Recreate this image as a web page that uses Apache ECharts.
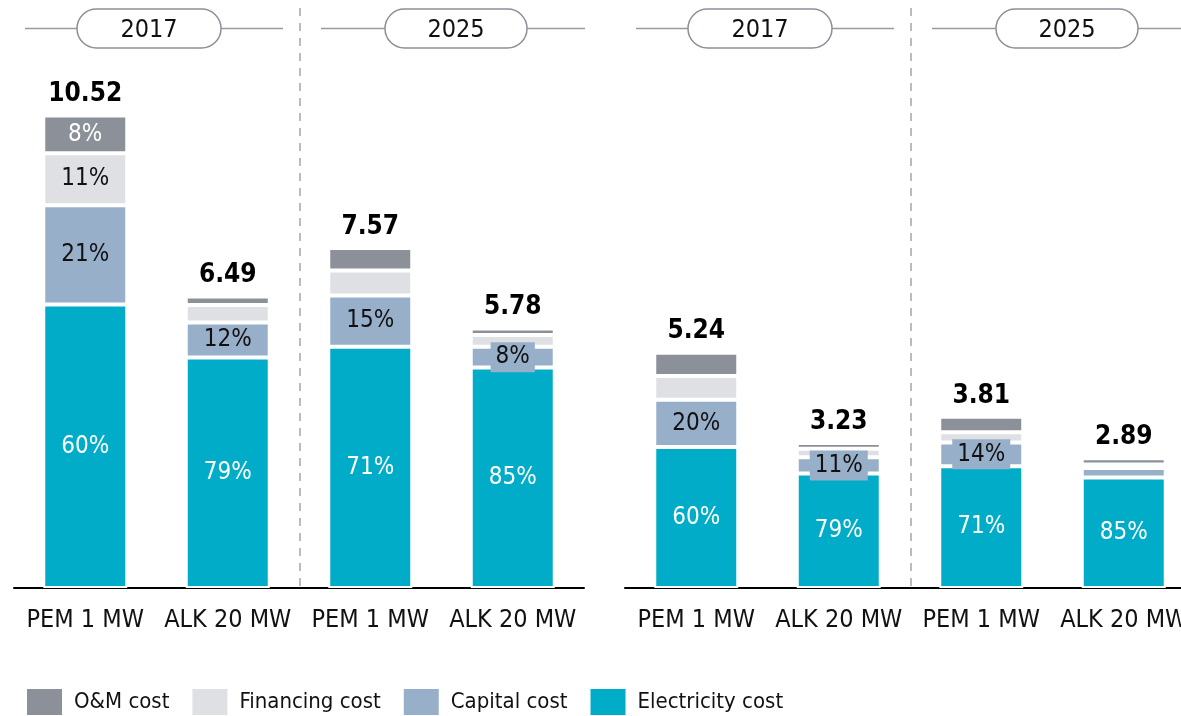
<!DOCTYPE html>
<html>
<head>
<meta charset="utf-8">
<title>Hydrogen cost breakdown</title>
<script src="https://cdn.jsdelivr.net/npm/echarts@6/dist/echarts.min.js"></script>
<style>
  html, body { margin: 0; padding: 0; background: #fff; }
  #chart { width: 1181px; height: 716px; }
</style>
</head>
<body>
<div id="chart"></div>
<script>
// categories and header labels
var categories = ['PEM 1 MW', 'ALK 20 MW', 'PEM 1 MW', 'ALK 20 MW'];
var yearLabels = ['2017', '2025'];
var seriesNames = ['O&M cost', 'Financing cost', 'Capital cost', 'Electricity cost'];

// left panel values
var omLeft = [0.84, 0.19, 0.50, 0.15];
var finLeft = [1.16, 0.39, 0.56, 0.26];
var capLeft = [2.21, 0.78, 1.14, 0.46];
var elecLeft = [6.31, 5.13, 5.37, 4.91];
var totalLeft = [10.52, 6.49, 7.57, 5.78];

// right panel values
var omRight = [0.52, 0.13, 0.34, 0.14];
var finRight = [0.53, 0.19, 0.23, 0.08];
var capRight = [1.05, 0.36, 0.53, 0.21];
var elecRight = [3.14, 2.55, 2.71, 2.46];
var totalRight = [5.24, 3.23, 3.81, 2.89];

// share labels shown in the bars ('' = none)
var omPctLeft = ['8%', '', '', ''];
var finPctLeft = ['11%', '', '', ''];
var capPctLeft = ['21%', '12%', '15%', '8%'];
var elecPctLeft = ['60%', '79%', '71%', '85%'];
var omPctRight = ['', '', '', ''];
var finPctRight = ['', '', '', ''];
var capPctRight = ['20%', '11%', '14%', ''];
var elecPctRight = ['60%', '79%', '71%', '85%'];

var FONT = "'DejaVu Sans Condensed', 'Liberation Sans', sans-serif";
var colors = {
  om: '#8b9099',
  fin: '#dee0e4',
  cap: '#98afca',
  elec: '#00acc8'
};

var chart = echarts.init(document.getElementById('chart'), null, {renderer: 'canvas'});

function stackSeries(name, idx, values, pcts, color, textColor, withBg) {
  return {
    name: name,
    type: 'bar',
    stack: 'cost' + idx,
    xAxisIndex: idx,
    yAxisIndex: idx,
    barWidth: 84,
    itemStyle: {color: color, borderColor: '#fff', borderWidth: 2},
    data: values.map(function (v, i) {
      return {
        value: v,
        label: {show: pcts[i] !== ''}
      };
    }),
    label: {
      position: 'inside',
      fontFamily: FONT,
      fontSize: 24,
      color: textColor,
      backgroundColor: withBg ? color : 'transparent',
      padding: withBg ? [3, 5] : 0,
      formatter: function (p) { return pcts[p.dataIndex]; }
    }
  };
}

function totalSeries(idx, totals) {
  return {
    name: 'total',
    type: 'bar',
    xAxisIndex: idx,
    yAxisIndex: idx,
    barWidth: 84,
    barGap: '-100%',
    silent: true,
    itemStyle: {color: 'rgba(0,0,0,0)'},
    data: totals,
    label: {
      show: true,
      position: 'top',
      distance: 8,
      fontFamily: FONT,
      fontSize: 26,
      fontWeight: 'bold',
      color: '#000',
      formatter: function (p) { return totals[p.dataIndex].toFixed(2); }
    },
    z: 1
  };
}

// header pills, lines and dividers (decoration)
function header(x0, wide) {
  var lc = '#9a9a9a';
  var els = [];
  var segs = [[25, 77], [221, 283], [321, 385], [527, wide ? 600 : 585]];
  segs.forEach(function (s) {
    els.push({type: 'line', shape: {x1: s[0] + x0, y1: 28.5, x2: s[1] + x0, y2: 28.5},
      style: {stroke: lc, lineWidth: 1.5}});
  });
  [[77, 221, yearLabels[0]], [385, 527, yearLabels[1]]].forEach(function (p) {
    els.push({type: 'rect', shape: {x: p[0] + x0, y: 9, width: p[1] - p[0], height: 39, r: 19.5},
      style: {fill: '#fff', stroke: '#8b9099', lineWidth: 1.5}});
    els.push({type: 'text', x: (p[0] + p[1]) / 2 + x0, y: 30,
      style: {text: p[2], font: '25px ' + FONT, fill: '#111', align: 'center', verticalAlign: 'middle'}});
  });
  els.push({type: 'line', shape: {x1: 300 + x0, y1: 8, x2: 300 + x0, y2: 587},
    style: {stroke: '#a5a5a5', lineWidth: 1.5, lineDash: [8, 7]}});
  return els;
}

var grids = [
  {left: 14, top: 49, width: 570, height: 539, outerBoundsMode: 'none'},
  {left: 625, top: 49, width: 570, height: 539, outerBoundsMode: 'none'}
];

var xAxes = [0, 1].map(function (i) {
  return {
    type: 'category',
    gridIndex: i,
    data: categories,
    axisLine: {lineStyle: {color: '#000', width: 2}},
    axisTick: {show: false},
    axisLabel: {fontFamily: FONT, fontSize: 25, color: '#111', margin: 20, interval: 0}
  };
});

var yAxes = [0, 1].map(function (i) {
  return {type: 'value', gridIndex: i, min: 0, max: 12, show: false, splitLine: {show: false}};
});

var series = [
  stackSeries(seriesNames[3], 0, elecLeft, elecPctLeft, colors.elec, '#fff', false),
  stackSeries(seriesNames[2], 0, capLeft, capPctLeft, colors.cap, '#111', true),
  stackSeries(seriesNames[1], 0, finLeft, finPctLeft, colors.fin, '#111', false),
  stackSeries(seriesNames[0], 0, omLeft, omPctLeft, colors.om, '#fff', false),
  totalSeries(0, totalLeft),
  stackSeries(seriesNames[3], 1, elecRight, elecPctRight, colors.elec, '#fff', false),
  stackSeries(seriesNames[2], 1, capRight, capPctRight, colors.cap, '#111', true),
  stackSeries(seriesNames[1], 1, finRight, finPctRight, colors.fin, '#111', false),
  stackSeries(seriesNames[0], 1, omRight, omPctRight, colors.om, '#fff', false),
  totalSeries(1, totalRight)
];

var option = {
  animation: false,
  backgroundColor: '#fff',
  grid: grids,
  xAxis: xAxes,
  yAxis: yAxes,
  legend: {
    data: seriesNames,
    left: 27,
    top: 689,
    padding: 0,
    itemWidth: 35,
    itemHeight: 26,
    itemGap: 23,
    icon: 'rect',
    itemStyle: {borderWidth: 0},
    textStyle: {fontFamily: FONT, fontSize: 22, color: '#111', padding: [0, 0, 0, 7]},
    selectedMode: false
  },
  graphic: header(0, false).concat(header(611, true)),
  series: series
};

chart.setOption(option);
</script>
</body>
</html>
